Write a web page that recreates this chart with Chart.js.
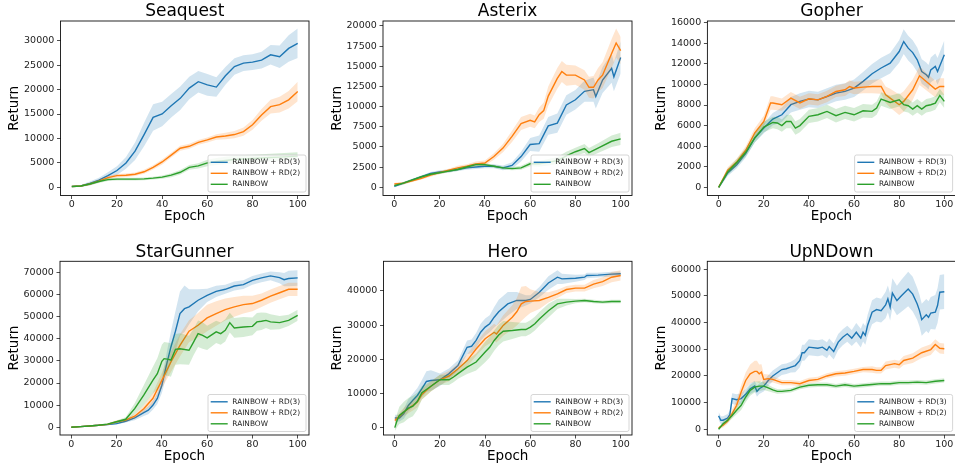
<!DOCTYPE html>
<html>
<head>
<meta charset="utf-8">
<script src="https://cdn.jsdelivr.net/npm/chart.js@4.4.0/dist/chart.umd.min.js"></script>
<style>
  body { margin: 0; background: #fff; width: 955px; height: 465px; overflow: hidden; position: relative; }
  canvas { position: absolute; }
</style>
</head>
<body>
<canvas id="c0"></canvas>
<canvas id="c1"></canvas>
<canvas id="c2"></canvas>
<canvas id="c3"></canvas>
<canvas id="c4"></canvas>
<canvas id="c5"></canvas>
<script>
// each series point: [epoch, mean return, half width of shaded band]
const seriesLabels = ["RAINBOW + RD(3)", "RAINBOW + RD(2)", "RAINBOW"];
const gameTitles = ["Seaquest", "Asterix", "Gopher", "StarGunner", "Hero", "UpNDown"];
const epochTicks = [0, 20, 40, 60, 80, 100];

const seaquestTicks = [0, 5000, 10000, 15000, 20000, 25000, 30000];
const asterixTicks = [0, 2500, 5000, 7500, 10000, 12500, 15000, 17500, 20000];
const gopherTicks = [0, 2000, 4000, 6000, 8000, 10000, 12000, 14000, 16000];
const starGunnerTicks = [0, 10000, 20000, 30000, 40000, 50000, 60000, 70000];
const heroTicks = [0, 10000, 20000, 30000, 40000];
const upNDownTicks = [0, 10000, 20000, 30000, 40000, 50000, 60000];

const seaquestRD3 = [[0,200,100],[4,300,200],[8,800,400],[12,1500,500],[16,2400,700],[20,3450,900],[24,5000,1200],[28,7400,1800],[32,10800,2400],[36,14300,2700],[40,15000,2500],[44,16700,2400],[48,18200,2400],[52,20300,2300],[56,21600,2200],[60,20950,2200],[64,20500,2000],[68,22800,1800],[72,24700,1700],[76,25400,1600],[80,25600,1600],[84,26000,1700],[88,27100,2000],[92,26700,2300],[96,28400,2700],[100,29450,3000]];
const seaquestRD2 = [[0,200,100],[4,300,150],[8,700,250],[12,1300,300],[16,2000,350],[20,2400,350],[24,2500,350],[28,2700,350],[32,3200,400],[36,4100,450],[40,5200,500],[44,6600,500],[48,8000,500],[52,8400,500],[56,9200,500],[60,9700,500],[64,10300,550],[68,10500,650],[72,10800,750],[76,11400,850],[80,12800,1000],[84,14800,1200],[88,16500,1400],[92,16900,1600],[96,17900,1800],[100,19600,2000]];
const seaquestRainbow = [[0,200,100],[4,300,150],[8,700,250],[12,1200,300],[16,1600,300],[20,1700,300],[24,1700,300],[28,1700,300],[32,1750,300],[36,1900,300],[40,2100,350],[44,2500,400],[48,3100,450],[52,4100,500],[56,4400,550],[60,5000,650],[64,5300,700],[68,5500,750],[72,5700,800],[76,5800,800],[80,5900,800],[84,6000,800],[88,6100,800],[92,6200,800],[96,6300,800],[100,6400,800]];

const asterixRD3 = [[0,100,150],[4,500,150],[8,900,150],[12,1300,150],[16,1700,200],[20,1900,200],[24,2000,200],[28,2200,200],[32,2400,250],[36,2500,250],[40,2600,250],[44,2600,250],[48,2400,300],[52,2700,400],[56,3800,600],[60,5300,800],[64,5400,1000],[68,7600,1100],[72,7950,1200],[76,10200,1200],[80,10850,1200],[84,11900,1300],[88,12100,1500],[89,11250,1500],[92,13300,1600],[96,14750,1800],[97,13700,1800],[100,16100,2000]];
const asterixRD2 = [[0,400,150],[4,500,150],[8,800,150],[12,1100,150],[16,1500,200],[20,1800,200],[24,2100,200],[28,2400,250],[32,2600,250],[36,2900,300],[40,3000,300],[44,3800,400],[48,4850,500],[52,6300,700],[56,7900,800],[60,8300,800],[62,8100,800],[64,9000,900],[66,9500,1000],[68,11300,1200],[72,13500,1300],[74,14350,1300],[76,13900,1300],[80,13900,1200],[84,13300,1200],[86,12400,1300],[88,12400,1400],[90,13300,1500],[92,13900,1600],[96,16600,1800],[98,17900,1800],[100,16950,1700]];
const asterixRainbow = [[0,200,150],[4,500,150],[8,900,150],[12,1300,150],[16,1600,150],[20,1800,150],[24,2000,150],[28,2200,200],[32,2500,200],[36,2800,200],[40,2800,200],[44,2600,200],[48,2400,200],[52,2300,200],[56,2400,250],[60,2900,300],[64,2900,350],[68,3100,400],[72,3300,450],[76,3900,500],[80,4400,500],[84,4800,550],[86,4300,550],[90,4850,600],[96,5700,700],[100,6000,750]];

const gopherRD3 = [[0,0,150],[4,1400,300],[8,2200,350],[12,3300,400],[16,4800,450],[20,5760,500],[24,6630,600],[28,7050,700],[32,8030,750],[36,8350,800],[40,8580,800],[44,8500,800],[48,8830,800],[52,9160,800],[56,9320,800],[60,9640,850],[64,10300,900],[68,11040,950],[72,11600,1000],[76,12070,1000],[80,13200,1100],[82,14170,1200],[84,13530,1200],[86,13100,1200],[88,12400,1200],[90,11260,1200],[92,10940,1200],[93,10700,1200],[94,11420,1200],[96,11750,1250],[97,11260,1300],[100,12880,1400]];
const gopherRD2 = [[0,0,150],[4,1650,300],[8,2460,350],[12,3600,400],[16,5300,450],[20,6400,550],[23,8200,650],[24,8200,650],[28,8030,600],[32,8670,600],[36,8200,600],[40,8600,550],[44,8500,550],[48,8830,550],[52,9320,550],[56,9480,600],[58,9800,600],[60,9650,600],[64,9740,600],[68,9800,650],[72,9800,700],[74,9000,800],[76,8670,900],[80,8030,1000],[82,8350,1000],[86,9480,1000],[89,10840,900],[92,10290,850],[96,9550,800],[98,9800,800],[100,9800,800]];
const gopherRainbow = [[0,0,150],[4,1500,300],[8,2400,350],[12,3400,400],[16,4800,450],[20,5860,500],[24,6300,550],[26,6250,600],[28,6000,600],[30,6400,650],[32,6400,650],[34,5760,650],[36,6000,650],[40,6900,650],[44,7050,650],[48,7380,650],[52,6960,650],[56,7280,650],[60,7050,650],[64,7440,650],[68,7380,650],[70,7700,650],[72,8580,650],[76,8250,650],[80,8500,650],[82,8030,650],[84,7930,650],[86,7600,650],[88,7930,650],[90,7600,650],[92,7930,650],[94,8030,650],[96,8190,650],[98,8930,650],[100,8350,650]];

const starGunnerRD3 = [[0,0,300],[4,300,300],[8,600,300],[12,900,300],[16,1200,300],[20,1650,400],[24,2700,600],[28,4200,1000],[32,6600,1500],[34,7700,1800],[36,9900,2000],[38,13000,2500],[40,19000,3500],[42,28000,5000],[44,36300,7000],[46,43400,9000],[48,51400,10000],[50,53600,10500],[52,54400,8000],[56,57400,5000],[60,59600,3000],[64,61400,2500],[68,62350,2000],[72,63850,2000],[76,64460,2000],[80,66400,2000],[84,67500,2000],[88,68400,2000],[92,67600,2500],[94,66700,3000],[96,67200,3500],[100,67500,3500]];
const starGunnerRD2 = [[0,0,300],[4,300,300],[8,600,300],[12,900,300],[16,1300,400],[20,2500,600],[24,3200,800],[28,5000,1000],[32,8400,1500],[36,13000,2500],[40,21200,3500],[44,29500,4500],[48,37000,5000],[52,43400,5000],[56,46100,5500],[60,49400,6000],[64,51400,5500],[68,53200,5000],[72,54400,4500],[76,55400,4000],[80,55900,3500],[84,57400,3000],[88,59300,3000],[92,60800,3000],[96,62350,3000],[100,62350,3000]];
const starGunnerRainbow = [[0,0,300],[4,300,300],[8,600,300],[12,900,300],[16,1400,400],[20,2500,600],[24,3600,900],[28,8400,2500],[32,14500,4500],[36,21200,6000],[38,24200,7000],[40,29800,7500],[41,31000,7500],[43,30700,7500],[44,30300,7500],[46,35200,7000],[48,35500,7000],[52,34800,6500],[54,38500,6000],[56,42300,6000],[58,41500,6000],[60,40400,5500],[64,43100,5000],[66,42300,5000],[68,43800,5000],[70,47300,4500],[72,44900,4500],[76,45300,4500],[80,45600,4000],[82,47600,4000],[84,47900,4000],[86,48300,3500],[88,47600,3500],[92,47300,3000],[96,48300,2500],[100,50600,2500]];

const heroRD3 = [[0,2800,1000],[2,2800,1000],[4,4100,1500],[6,6500,1800],[8,8000,2000],[10,9400,2200],[12,11400,2500],[14,13500,3000],[16,13800,3000],[20,14000,1800],[24,15800,1500],[28,18200,1500],[32,23500,2000],[34,23800,2000],[36,25500,2200],[38,27900,2500],[40,29400,2500],[42,30400,2500],[44,32300,3000],[46,33900,3500],[50,36200,3500],[54,37200,2500],[58,37200,1500],[60,37500,1200],[64,39600,1500],[68,42300,2000],[72,44000,2000],[74,43500,1500],[80,43700,1000],[84,44000,800],[85,44500,800],[90,44600,700],[96,44900,700],[100,45000,700]];
const heroRD2 = [[0,2100,800],[4,4600,1200],[8,6500,1500],[10,7500,1500],[12,9700,1500],[16,12100,1500],[20,14000,1500],[24,15100,1500],[28,17200,1500],[32,19600,1800],[36,23000,2000],[40,26000,2200],[44,27900,2500],[45,27400,2500],[48,29900,3000],[52,32300,3500],[54,33900,4000],[56,36200,5000],[58,36900,4500],[60,37000,3500],[64,37200,2500],[68,38100,1500],[72,39100,1200],[76,40400,1000],[80,40800,1000],[84,40800,1000],[88,42000,1200],[92,42700,1300],[96,44000,1500],[100,44500,1500]];
const heroRainbow = [[0,0,1000],[1,2100,2000],[2,3600,2500],[4,4600,3000],[6,5700,3000],[8,6300,3000],[10,7700,2500],[12,10200,2000],[16,12100,1500],[20,14000,1500],[24,14000,1500],[26,14800,1500],[28,15800,1500],[32,17700,2000],[36,19200,2500],[40,22100,3000],[42,23500,3000],[44,25500,3000],[46,27100,3000],[48,28200,3000],[52,28400,2500],[56,28700,2000],[58,28700,2000],[60,29400,2000],[62,30400,2000],[64,31800,2000],[68,34200,2000],[72,36200,1500],[76,36700,1000],[80,37000,600],[84,37200,500],[88,36900,500],[92,36700,500],[96,36900,500],[100,36900,500]];

const upNDownRD3 = [[0,5000,1500],[1,3400,1500],[2,3400,1500],[4,4200,1500],[5,5500,1500],[6,11500,2000],[8,11100,2000],[10,11500,2000],[12,13100,2000],[14,15200,2000],[16,16200,2000],[17,14200,2000],[18,15200,2000],[20,16200,2000],[22,18300,2000],[24,20000,2000],[28,22400,2000],[30,22700,2000],[32,23300,2000],[34,23900,2500],[36,25800,2500],[37,28700,3000],[38,28700,3000],[40,30800,3000],[44,30400,3000],[46,30800,3000],[48,29600,3000],[49,31000,3000],[51,29200,3000],[53,32700,3000],[55,34500,3000],[57,35800,3000],[59,34200,3000],[61,36400,3500],[63,34200,3500],[64,36400,3500],[65,35200,3500],[66,38900,4000],[68,43900,4500],[70,44900,4500],[72,44500,4500],[74,46600,5000],[75,48900,5000],[76,45800,5000],[77,51100,5500],[79,48300,5500],[81,50100,6000],[84,52600,6500],[86,50700,6500],[88,47000,6000],[89,44500,6000],[90,41100,6000],[92,42900,6000],[93,42000,6000],[94,43600,6000],[96,43900,6500],[97,46400,6500],[98,51400,6500],[100,51600,6500]];
const upNDownRD2 = [[0,500,500],[2,1500,800],[4,3100,1000],[6,5900,1500],[8,9000,2000],[10,14000,2500],[12,18300,3000],[14,20800,3500],[16,21700,4000],[17,21700,4000],[18,20800,3500],[19,21400,3000],[20,18700,2000],[22,19000,1500],[24,18700,1200],[28,17500,1000],[32,17500,1000],[36,17100,1000],[40,18300,1000],[44,18700,1000],[48,20000,1000],[52,20800,1000],[56,21100,1000],[60,21700,1000],[64,22400,1000],[68,22400,1200],[70,22100,1200],[72,22100,1200],[74,23900,1500],[78,24600,1500],[80,24200,1500],[82,25800,1700],[86,26700,1800],[90,28700,2000],[94,29900,2000],[96,31800,2000],[98,30400,2000],[100,30200,2000]];
const upNDownRainbow = [[0,0,500],[2,2100,800],[4,3400,1000],[6,5200,1200],[8,7100,1500],[10,9000,1800],[12,12100,2000],[14,14600,2000],[16,15800,2000],[18,16200,1800],[20,16200,1500],[22,15500,1200],[24,14800,1000],[26,14200,900],[28,14200,800],[32,14600,800],[36,15800,800],[40,16500,800],[44,16700,800],[48,16700,800],[52,16200,800],[56,16700,800],[60,16200,800],[64,16500,800],[68,16800,800],[72,17100,800],[76,17100,800],[80,17500,800],[84,17500,800],[88,17700,800],[92,17500,800],[96,18000,800],[100,18300,800]];

const lineColors = ["#1f77b4", "#ff7f0e", "#2ca02c"];
const bandColors = ["rgba(31,119,180,0.2)", "rgba(255,127,14,0.2)", "rgba(44,160,44,0.2)"];
const font = '"DejaVu Sans", sans-serif';

// canvas cell [left, top, width, height] and plot box [left, top, right, bottom] in page pixels
const panels = [
  { series: [seaquestRD3, seaquestRD2, seaquestRainbow], ticks: seaquestTicks, yMin: -1650, yMax: 34000, cell: [0, 0, 318, 232], box: [60.5, 21, 309, 195.5] },
  { series: [asterixRD3, asterixRD2, asterixRainbow], ticks: asterixTicks, yMin: -1030, yMax: 20620, cell: [318, 0, 318, 232], box: [383, 21, 632, 195.5] },
  { series: [gopherRD3, gopherRD2, gopherRainbow], ticks: gopherTicks, yMin: -800, yMax: 16170, cell: [636, 0, 330, 232], box: [707.4, 21, 955.6, 195.5] },
  { series: [starGunnerRD3, starGunnerRD2, starGunnerRainbow], ticks: starGunnerTicks, yMin: -3500, yMax: 75000, cell: [0, 232, 318, 233], box: [60, 261.3, 309, 435] },
  { series: [heroRD3, heroRD2, heroRainbow], ticks: heroTicks, yMin: -2150, yMax: 48650, cell: [318, 232, 318, 233], box: [383.5, 261.3, 632, 435] },
  { series: [upNDownRD3, upNDownRD2, upNDownRainbow], ticks: upNDownTicks, yMin: -2150, yMax: 63000, cell: [636, 232, 330, 233], box: [707.3, 261.3, 955.6, 435] }
];

const Y_AXIS_W = 56;
const X_AXIS_H = 30;
const TITLE_SIZE = 17;

// axes frame + legend in the lower right corner
const frameAndLegend = {
  id: "frameAndLegend",
  afterDatasetsDraw(chart) {
    const ctx = chart.ctx;
    const a = chart.chartArea;
    ctx.save();
    ctx.strokeStyle = "#111";
    ctx.lineWidth = 0.9;
    ctx.strokeRect(a.left, a.top, a.right - a.left, a.bottom - a.top);

    const w = 98, h = 37;
    const x = a.right - 3 - w;
    const y = a.bottom - 3.5 - h;
    ctx.beginPath();
    ctx.roundRect(x, y, w, h, 2);
    ctx.fillStyle = "rgba(255,255,255,0.8)";
    ctx.fill();
    ctx.strokeStyle = "#cccccc";
    ctx.lineWidth = 0.8;
    ctx.stroke();
    ctx.font = "7.4px " + font;
    ctx.textBaseline = "middle";
    seriesLabels.forEach((label, i) => {
      const ly = y + 7.3 + i * 11;
      ctx.strokeStyle = lineColors[i];
      ctx.lineWidth = 1.4;
      ctx.beginPath();
      ctx.moveTo(x + 2.7, ly);
      ctx.lineTo(x + 19.7, ly);
      ctx.stroke();
      ctx.fillStyle = "#222";
      ctx.fillText(label, x + 24.3, ly);
    });
    ctx.restore();
  }
};

function buildDatasets(seriesList) {
  const sets = [];
  seriesList.forEach((points, i) => {
    const base = (2 - i) * 3 + 1;  // later series drawn on top
    sets.push({
      data: points.map(p => ({ x: p[0], y: p[1] - p[2] })),
      borderColor: "rgba(0,0,0,0)", borderWidth: 0, pointRadius: 0, fill: false, order: base + 2
    });
    sets.push({
      data: points.map(p => ({ x: p[0], y: p[1] + p[2] })),
      borderColor: "rgba(0,0,0,0)", borderWidth: 0, pointRadius: 0,
      fill: "-1", backgroundColor: bandColors[i], order: base + 1
    });
    sets.push({
      label: seriesLabels[i],
      data: points.map(p => ({ x: p[0], y: p[1] })),
      borderColor: lineColors[i], borderWidth: 1.4, pointRadius: 0, fill: false, order: base
    });
  });
  return sets;
}

panels.forEach((p, idx) => {
  const canvas = document.getElementById("c" + idx);
  const [cl, ct, cw, chh] = p.cell;
  const [bl, bt, br, bb] = p.box;
  canvas.style.left = cl + "px";
  canvas.style.top = ct + "px";
  canvas.width = cw;
  canvas.height = chh;

  const titleMid = idx < 3 ? 11.5 : 20.5;   // relative to cell top
  const titleTop = titleMid - TITLE_SIZE / 2;
  const titleBottom = bt - ct - TITLE_SIZE - titleTop;

  new Chart(canvas.getContext("2d"), {
    type: "line",
    data: { datasets: buildDatasets(p.series) },
    options: {
      responsive: false,
      animation: false,
      events: [],
      layout: {
        padding: {
          left: bl - cl - Y_AXIS_W,
          right: cl + cw - br,
          top: 0,
          bottom: ct + chh - bb - X_AXIS_H
        }
      },
      plugins: {
        legend: { display: false },
        tooltip: { enabled: false },
        title: {
          display: true,
          fullSize: false,
          text: gameTitles[idx],
          color: "#000",
          font: { family: font, size: TITLE_SIZE, weight: "normal", lineHeight: 1 },
          padding: { top: titleTop, bottom: titleBottom }
        }
      },
      scales: {
        x: {
          type: "linear",
          min: -5,
          max: 105,
          afterBuildTicks: s => { s.ticks = epochTicks.map(v => ({ value: v })); },
          afterFit: s => { s.height = X_AXIS_H; },
          border: { display: false },
          grid: { drawOnChartArea: false, drawTicks: true, tickLength: 3.5, color: "#222", tickWidth: 0.8 },
          ticks: { color: "#222", padding: 1, font: { family: font, size: 9.5, lineHeight: 1 }, maxRotation: 0, callback: v => String(v) },
          title: {
            display: true, text: "Epoch", color: "#000",
            font: { family: font, size: 13.5, lineHeight: 1 },
            padding: { top: 0, bottom: X_AXIS_H - 21 - 6.75 }
          }
        },
        y: {
          min: p.yMin,
          max: p.yMax,
          afterBuildTicks: s => { s.ticks = p.ticks.map(v => ({ value: v })); },
          afterFit: s => { s.width = Y_AXIS_W; },
          border: { display: false },
          grid: { drawOnChartArea: false, drawTicks: true, tickLength: 3.5, color: "#222", tickWidth: 0.8 },
          ticks: { color: "#222", padding: 2.7, font: { family: font, size: 9.5, lineHeight: 1 }, callback: v => String(v) },
          title: {
            display: true, text: "Return", color: "#000",
            font: { family: font, size: 13.5, lineHeight: 1 },
            padding: { top: Y_AXIS_W - 46 - 6.75, bottom: 0 }
          }
        }
      }
    },
    plugins: [frameAndLegend]
  });
});
</script>
</body>
</html>
